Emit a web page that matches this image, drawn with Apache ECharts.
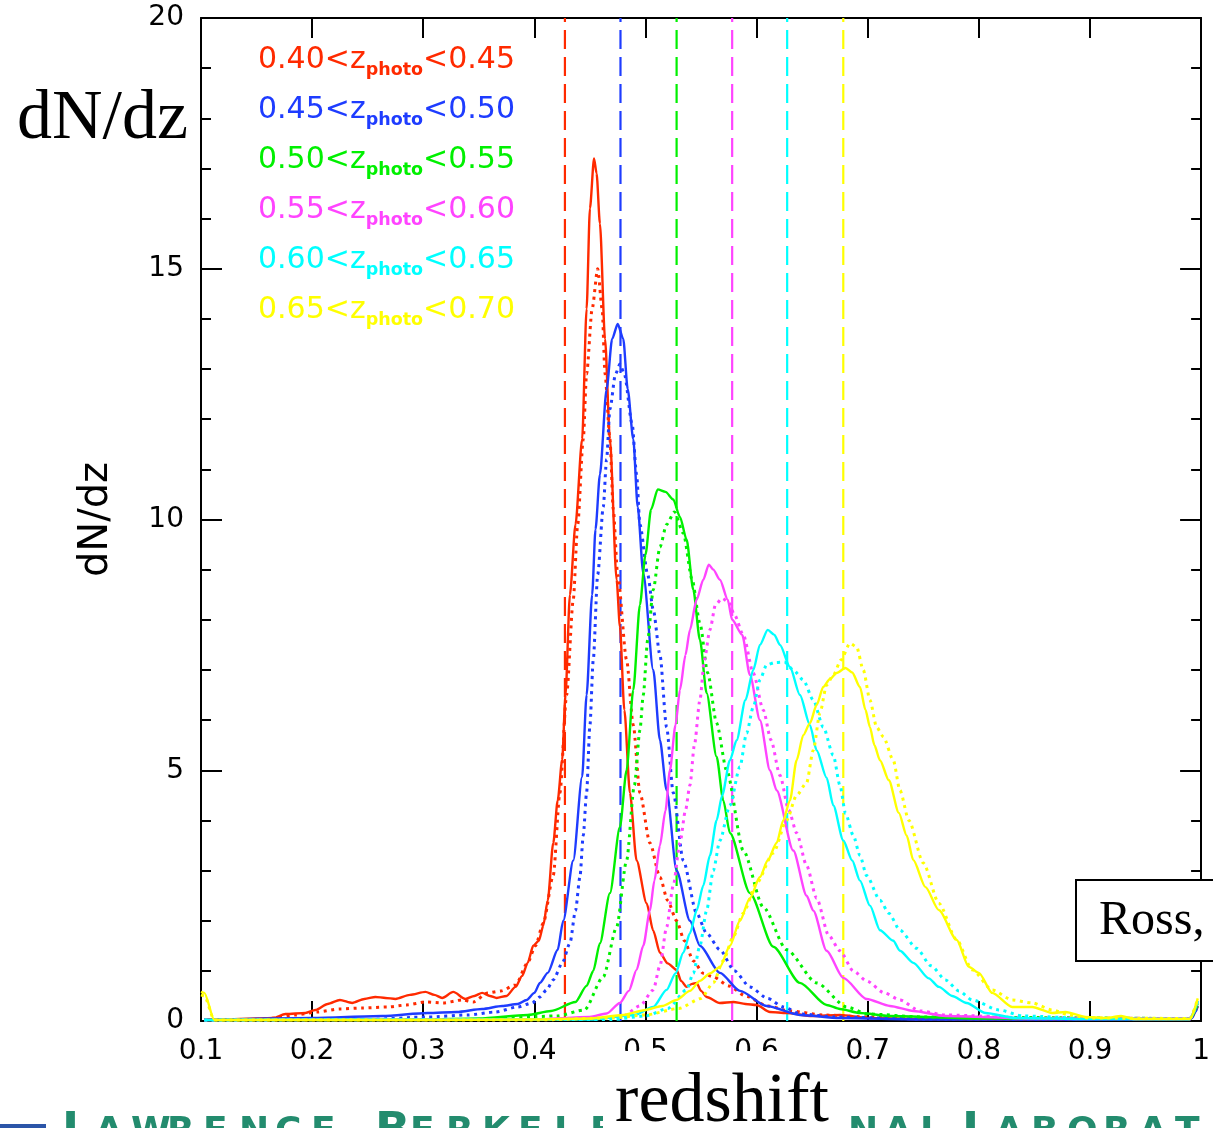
<!DOCTYPE html>
<html>
<head>
<meta charset="utf-8">
<script src="https://cdn.jsdelivr.net/npm/echarts@6/dist/echarts.min.js"></script>
<style>
html,body{margin:0;padding:0;background:#fff;}
#chart{width:1213px;height:1128px;}
</style>
</head>
<body>
<div id="chart"></div>
<script>
// ---------------- data ----------------
const xTicks = [0.1, 1.0];
const yRange = [0, 20];
const binLo = ['0.40', '0.45', '0.50', '0.55', '0.60', '0.65'];
const binHi = ['0.45', '0.50', '0.55', '0.60', '0.65', '0.70'];
const colors = ['#ff2a00', '#1e3cff', '#00f000', '#ff44ff', '#00ffff', '#ffff00'];
const meanZ = [0.4275, 0.4775, 0.528, 0.578, 0.6275, 0.678];

const redSolid = [[0.103,0.03],[0.12,0.03],[0.15,0.05],[0.165,0.06],[0.176,0.14],[0.194,0.16],[0.203,0.22],[0.214,0.34],[0.225,0.42],[0.236,0.36],[0.247,0.44],[0.257,0.48],[0.266,0.46],[0.275,0.44],[0.288,0.52],[0.302,0.58],[0.31,0.52],[0.317,0.46],[0.327,0.58],[0.338,0.44],[0.346,0.5],[0.353,0.56],[0.36,0.5],[0.366,0.46],[0.375,0.5],[0.383,0.68],[0.389,0.9],[0.394,1.16],[0.399,1.5],[0.404,1.6],[0.408,1.9],[0.412,2.4],[0.417,3.55],[0.421,4.4],[0.425,5.2],[0.428,6.5],[0.432,8.5],[0.437,9.9],[0.443,11.6],[0.447,14.2],[0.45,16.2],[0.4537,17.2],[0.456,16.9],[0.459,15.9],[0.4636,13.6],[0.468,11.6],[0.474,8.8],[0.477,7.86],[0.481,6.2],[0.486,4.55],[0.492,3.2],[0.501,2.35],[0.507,1.8],[0.513,1.36],[0.52,1.15],[0.528,1.02],[0.532,0.8],[0.537,0.68],[0.542,0.74],[0.546,0.76],[0.55,0.6],[0.555,0.48],[0.567,0.36],[0.579,0.38],[0.59,0.34],[0.6,0.32],[0.612,0.18],[0.627,0.16],[0.65,0.1],[0.675,0.12],[0.7,0.06],[0.75,0.04],[0.85,0.03],[0.95,0.03],[0.99,0.03],[0.997,0.3]];
const redDotted = [[0.103,0.02],[0.15,0.03],[0.167,0.06],[0.185,0.12],[0.205,0.18],[0.225,0.24],[0.245,0.26],[0.268,0.28],[0.285,0.32],[0.302,0.38],[0.318,0.36],[0.335,0.42],[0.345,0.38],[0.358,0.56],[0.37,0.6],[0.383,0.72],[0.394,1.16],[0.401,1.5],[0.408,1.95],[0.417,2.9],[0.423,4.55],[0.429,6.5],[0.435,8.4],[0.439,9.9],[0.444,11.6],[0.447,12.9],[0.452,14.2],[0.457,15.0],[0.461,14.2],[0.4636,12.9],[0.468,11.6],[0.471,10.2],[0.475,8.9],[0.483,7.2],[0.489,5.9],[0.495,4.55],[0.504,3.55],[0.513,2.87],[0.52,2.4],[0.528,2.0],[0.535,1.6],[0.543,1.2],[0.552,0.95],[0.561,0.88],[0.575,0.7],[0.59,0.5],[0.61,0.3],[0.63,0.2],[0.66,0.12],[0.7,0.08],[0.8,0.04],[0.99,0.03],[0.997,0.3]];
const blueSolid = [[0.103,0.02],[0.2,0.06],[0.263,0.1],[0.304,0.16],[0.33,0.18],[0.353,0.24],[0.371,0.3],[0.385,0.34],[0.393,0.42],[0.4,0.56],[0.405,0.76],[0.412,0.96],[0.421,1.42],[0.426,2.0],[0.435,3.2],[0.443,4.87],[0.447,6.5],[0.452,8.5],[0.455,9.8],[0.459,10.9],[0.465,12.6],[0.47,13.6],[0.475,13.9],[0.48,13.6],[0.484,12.6],[0.489,11.6],[0.493,10.25],[0.498,8.93],[0.507,7.0],[0.513,5.6],[0.519,4.6],[0.528,3.0],[0.54,2.0],[0.549,1.5],[0.567,0.96],[0.585,0.6],[0.609,0.3],[0.639,0.12],[0.675,0.06],[0.75,0.03],[0.99,0.03],[0.997,0.3]];
const blueDotted = [[0.103,0.02],[0.25,0.03],[0.304,0.08],[0.34,0.12],[0.365,0.18],[0.385,0.28],[0.398,0.36],[0.405,0.48],[0.411,0.62],[0.417,0.82],[0.425,1.15],[0.432,1.55],[0.437,2.2],[0.441,2.87],[0.444,3.7],[0.447,4.55],[0.45,5.9],[0.453,7.2],[0.457,8.9],[0.462,10.25],[0.465,11.2],[0.468,12.2],[0.473,12.9],[0.477,13.1],[0.481,12.9],[0.488,11.9],[0.492,10.9],[0.495,9.9],[0.502,8.9],[0.507,8.2],[0.513,7.3],[0.519,5.86],[0.525,4.55],[0.534,3.2],[0.546,2.15],[0.555,1.75],[0.567,1.42],[0.58,1.0],[0.594,0.68],[0.61,0.45],[0.624,0.28],[0.64,0.14],[0.67,0.08],[0.75,0.04],[0.99,0.03],[0.997,0.3]];
const greenSolid = [[0.103,0.02],[0.3,0.03],[0.35,0.05],[0.394,0.12],[0.415,0.2],[0.437,0.38],[0.447,0.7],[0.453,1.0],[0.459,1.55],[0.468,2.55],[0.477,3.87],[0.483,5.0],[0.489,6.6],[0.495,8.3],[0.5,9.3],[0.505,10.2],[0.511,10.6],[0.518,10.55],[0.525,10.4],[0.531,10.05],[0.537,9.6],[0.543,8.6],[0.549,7.6],[0.555,6.54],[0.564,5.27],[0.57,4.4],[0.576,3.75],[0.594,2.55],[0.615,1.48],[0.639,0.76],[0.663,0.32],[0.675,0.24],[0.693,0.16],[0.72,0.1],[0.8,0.05],[0.99,0.04],[0.997,0.35]];
const greenDotted = [[0.103,0.02],[0.35,0.03],[0.42,0.1],[0.445,0.22],[0.462,0.88],[0.474,1.87],[0.483,3.2],[0.49,4.7],[0.495,5.8],[0.498,6.5],[0.502,7.6],[0.507,8.6],[0.513,9.45],[0.519,9.9],[0.526,10.15],[0.534,9.73],[0.542,8.8],[0.549,7.93],[0.556,6.94],[0.564,5.94],[0.573,5.0],[0.588,3.4],[0.606,2.27],[0.627,1.42],[0.654,0.76],[0.681,0.28],[0.7,0.14],[0.75,0.08],[0.99,0.05],[0.997,0.35]];
const magentaSolid = [[0.103,0.02],[0.4,0.03],[0.45,0.08],[0.465,0.15],[0.477,0.36],[0.485,0.6],[0.492,1.02],[0.498,1.5],[0.504,2.2],[0.508,2.8],[0.513,3.5],[0.518,4.2],[0.522,5.0],[0.527,5.9],[0.531,6.6],[0.536,7.3],[0.54,7.8],[0.546,8.4],[0.552,8.8],[0.557,9.1],[0.561,9.0],[0.567,8.8],[0.574,8.4],[0.578,8.0],[0.587,7.7],[0.594,6.9],[0.603,6.0],[0.612,5.0],[0.618,4.6],[0.633,3.4],[0.645,2.5],[0.651,2.2],[0.663,1.4],[0.678,0.86],[0.699,0.44],[0.72,0.3],[0.741,0.2],[0.77,0.1],[0.85,0.05],[0.99,0.05],[0.997,0.4]];
const magentaDotted = [[0.103,0.02],[0.45,0.03],[0.48,0.1],[0.495,0.3],[0.507,0.62],[0.513,1.1],[0.519,1.87],[0.525,2.7],[0.531,3.55],[0.536,4.2],[0.54,4.7],[0.544,5.5],[0.549,6.4],[0.553,7.2],[0.558,7.8],[0.563,8.3],[0.569,8.43],[0.575,8.35],[0.58,8.1],[0.588,7.7],[0.597,6.94],[0.606,6.2],[0.613,5.6],[0.621,4.9],[0.629,4.2],[0.636,3.75],[0.645,3.1],[0.654,2.45],[0.665,1.7],[0.675,1.4],[0.687,1.0],[0.699,0.8],[0.715,0.56],[0.729,0.42],[0.747,0.2],[0.77,0.12],[0.85,0.06],[0.99,0.05],[0.997,0.4]];
const cyanSolid = [[0.103,0.02],[0.45,0.03],[0.49,0.12],[0.507,0.28],[0.519,0.62],[0.527,0.95],[0.534,1.36],[0.54,1.75],[0.546,2.2],[0.552,2.7],[0.558,3.3],[0.564,4.0],[0.569,4.5],[0.576,5.2],[0.582,5.6],[0.59,6.4],[0.597,7.0],[0.603,7.5],[0.61,7.8],[0.616,7.7],[0.621,7.5],[0.63,7.06],[0.639,6.5],[0.648,5.9],[0.654,5.4],[0.663,4.85],[0.669,4.3],[0.678,3.6],[0.686,3.2],[0.693,2.8],[0.702,2.3],[0.711,1.81],[0.723,1.6],[0.729,1.4],[0.741,1.16],[0.755,0.85],[0.764,0.68],[0.776,0.5],[0.789,0.36],[0.806,0.16],[0.833,0.06],[0.9,0.04],[0.99,0.04],[0.997,0.4]];
const cyanDotted = [[0.103,0.02],[0.47,0.03],[0.5,0.1],[0.52,0.25],[0.537,0.62],[0.543,0.95],[0.549,1.5],[0.555,2.2],[0.561,3.0],[0.567,3.6],[0.576,4.3],[0.585,5.07],[0.591,5.74],[0.597,6.26],[0.603,6.8],[0.609,7.1],[0.617,7.15],[0.625,7.16],[0.633,7.0],[0.642,6.8],[0.651,6.4],[0.66,5.86],[0.669,5.3],[0.675,4.7],[0.68,4.14],[0.687,3.7],[0.693,3.3],[0.699,2.9],[0.711,2.41],[0.719,2.15],[0.729,1.81],[0.744,1.45],[0.757,1.1],[0.77,0.82],[0.782,0.6],[0.794,0.42],[0.818,0.22],[0.84,0.1],[0.9,0.05],[0.99,0.05],[0.997,0.4]];
const yellowSolid = [[0.1,0.58],[0.103,0.56],[0.112,0.02],[0.3,0.02],[0.4,0.03],[0.45,0.05],[0.48,0.12],[0.5,0.22],[0.515,0.3],[0.528,0.42],[0.54,0.6],[0.549,0.8],[0.558,0.95],[0.567,1.08],[0.576,1.5],[0.585,2.0],[0.594,2.45],[0.603,2.87],[0.61,3.2],[0.618,3.55],[0.624,4.0],[0.63,4.4],[0.636,5.2],[0.642,5.7],[0.648,5.94],[0.654,6.3],[0.66,6.66],[0.666,6.82],[0.672,6.94],[0.68,7.04],[0.686,6.95],[0.693,6.66],[0.698,6.2],[0.702,5.86],[0.706,5.5],[0.711,5.2],[0.719,4.8],[0.728,4.15],[0.735,3.7],[0.741,3.21],[0.752,2.67],[0.764,2.21],[0.78,1.62],[0.791,1.08],[0.8,0.96],[0.812,0.56],[0.83,0.28],[0.848,0.28],[0.866,0.16],[0.878,0.18],[0.896,0.08],[0.915,0.06],[0.928,0.1],[0.94,0.04],[0.99,0.04],[0.997,0.45]];
const yellowDotted = [[0.1,0.52],[0.103,0.5],[0.112,0.02],[0.4,0.02],[0.47,0.06],[0.5,0.12],[0.53,0.25],[0.55,0.45],[0.561,0.76],[0.57,1.2],[0.579,1.68],[0.588,2.15],[0.6,2.75],[0.615,3.35],[0.627,4.0],[0.636,4.5],[0.645,4.75],[0.651,5.4],[0.657,6.14],[0.663,6.7],[0.669,6.9],[0.676,7.2],[0.684,7.53],[0.69,7.46],[0.696,7.0],[0.702,6.4],[0.708,5.86],[0.714,5.67],[0.723,5.2],[0.729,4.6],[0.737,4.0],[0.75,3.15],[0.764,2.35],[0.78,1.62],[0.794,1.02],[0.812,0.62],[0.83,0.42],[0.848,0.36],[0.866,0.22],[0.881,0.12],[0.9,0.06],[0.99,0.05],[0.997,0.45]];

const solidSets = [redSolid, blueSolid, greenSolid, magentaSolid, cyanSolid, yellowSolid];
const dottedSets = [redDotted, blueDotted, greenDotted, magentaDotted, cyanDotted, yellowDotted];

// ---------------- chart ----------------
const chart = echarts.init(document.getElementById('chart'), null, {renderer: 'canvas'});
const FONT = 'DejaVu Sans';
const SERIF = 'Liberation Serif';

const series = [];
for (let i = 0; i < 6; i++) {
  series.push({
    type: 'line', data: [[meanZ[i], yRange[0]], [meanZ[i], yRange[1]]],
    showSymbol: false, silent: true, z: 2,
    lineStyle: {color: colors[i], width: 2.2, type: [19, 8]}
  });
}
for (let i = 0; i < 6; i++) {
  series.push({
    type: 'line', data: dottedSets[i], showSymbol: false, smooth: 0.25, smoothMonotone: 'x', z: 3,
    lineStyle: {color: colors[i], width: 3, type: [3, 4.5]}
  });
  series.push({
    type: 'line', data: solidSets[i], showSymbol: false, smooth: 0.25, smoothMonotone: 'x', z: 3,
    lineStyle: {color: colors[i], width: 2.4}
  });
}

const axisCommon = {
  axisLine: {show: true, onZero: false, lineStyle: {color: '#000', width: 2}},
  splitLine: {show: false}
};

const legendGraphics = binLo.map((lo, i) => ({
  type: 'text', x: 258, y: 45 + 50 * i, z: 100,
  style: {
    text: '{a|' + lo + '<z}{b|photo}{a|<' + binHi[i] + '}',
    verticalAlign: 'top',
    rich: {
      a: {fontSize: 30, fontFamily: FONT, fill: colors[i], lineHeight: 28, verticalAlign: 'top'},
      b: {fontSize: 17.5, fontFamily: FONT, fontWeight: 'bold', fill: colors[i], lineHeight: 18, padding: [16, 0, 0, 0], verticalAlign: 'top'}
    }
  }
}));

const banner = [
  {t: 'L', x: 62, s: 46}, {t: 'AWRENCE', x: 95, s: 36, sp: 36},
  {t: 'B', x: 375, s: 46}, {t: 'ERKELE', x: 410, s: 36, sp: 36},
  {t: 'NAL', x: 848, s: 36, sp: 36},
  {t: 'L', x: 962, s: 46}, {t: 'ABORAT', x: 995, s: 36, sp: 36}
];
const bannerGraphics = [];
banner.forEach(b => {
  const letters = b.t.split('');
  letters.forEach((ch, k) => {
    bannerGraphics.push({
      type: 'text', x: b.x + (b.sp || 0) * k, y: b.s > 40 ? 1110 : 1115, z: 50,
      style: {text: ch, fontFamily: FONT, fontSize: b.s, fill: '#238c6e', verticalAlign: 'top', fontWeight: 'bold'}
    });
  });
});

const option = {
  animation: false,
  backgroundColor: '#fff',
  grid: {left: 201, right: 10, top: 18, bottom: 107, containLabel: false},
  xAxis: [
    Object.assign({}, axisCommon, {
      type: 'value', position: 'bottom', min: xTicks[0], max: xTicks[1], interval: 0.1,
      axisTick: {show: true, inside: true, length: 20, lineStyle: {color: '#000', width: 2}},
      axisLabel: {show: true, margin: 17, fontSize: 28, fontFamily: FONT, color: '#000',
        formatter: v => String(Math.round(v * 10) / 10)}
    }),
    Object.assign({}, axisCommon, {
      type: 'value', position: 'top', min: xTicks[0], max: xTicks[1], interval: 0.1,
      axisTick: {show: true, inside: true, length: 20, lineStyle: {color: '#000', width: 2}},
      axisLabel: {show: false}
    })
  ],
  yAxis: [
    Object.assign({}, axisCommon, {
      type: 'value', position: 'left', min: yRange[0], max: yRange[1], interval: 5,
      name: 'dN/dz', nameLocation: 'middle', nameRotate: 90, nameGap: 84,
      nameTextStyle: {fontSize: 40, fontFamily: FONT, color: '#000'},
      axisTick: {show: true, inside: true, length: 21, lineStyle: {color: '#000', width: 2}},
      minorTick: {show: true, splitNumber: 5, length: 10, lineStyle: {color: '#000', width: 2}},
      axisLabel: {show: true, margin: 17, fontSize: 28, fontFamily: FONT, color: '#000'}
    }),
    Object.assign({}, axisCommon, {
      type: 'value', position: 'right', min: yRange[0], max: yRange[1], interval: 5,
      axisTick: {show: true, inside: true, length: 21, lineStyle: {color: '#000', width: 2}},
      minorTick: {show: true, splitNumber: 5, length: 10, lineStyle: {color: '#000', width: 2}},
      axisLabel: {show: false}
    })
  ],
  series: series,
  graphic: [
    {type: 'text', x: 17, y: 120, z: 100,
      style: {text: 'dN/dz', fontFamily: SERIF, fontSize: 70, fill: '#000', verticalAlign: 'middle'}},
    ...legendGraphics,
    ...bannerGraphics,
    {type: 'rect', shape: {x: 0, y: 1124, width: 46, height: 4}, z: 50, style: {fill: '#2b55a8'}},
    {type: 'rect', shape: {x: 603, y: 1051, width: 239, height: 77}, z: 60, style: {fill: '#fff'}},
    {type: 'text', x: 722, y: 1103, z: 61,
      style: {text: 'redshift', fontFamily: SERIF, fontSize: 70, fill: '#000', align: 'center', verticalAlign: 'middle'}},
    {type: 'rect', shape: {x: 1076, y: 880, width: 160, height: 81}, z: 60,
      style: {fill: '#fff', stroke: '#000', lineWidth: 2}},
    {type: 'text', x: 1099, y: 921, z: 61,
      style: {text: 'Ross,', fontFamily: SERIF, fontSize: 48, fill: '#000', verticalAlign: 'middle'}}
  ]
};
chart.setOption(option);
</script>
</body>
</html>
